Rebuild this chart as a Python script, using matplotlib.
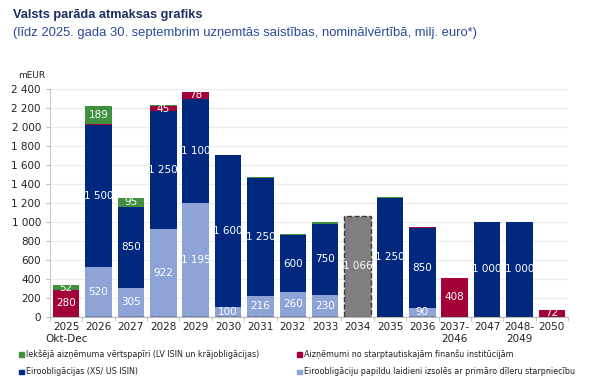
import numpy as np
import matplotlib.pyplot as plt

years = ['2025\nOkt-Dec', '2026', '2027', '2028', '2029', '2030', '2031', '2032',
         '2033', '2034', '2035', '2036', '2037-\n2046', '2047', '2048-\n2049', '2050']

# Eiroobligāciju papildu laidieni (light blue)
euro_add = [0, 520, 305, 922, 1195, 100, 216, 260, 230, 0, 0, 90, 0, 0, 0, 0]
# Eiroobligācijas (navy)
euro = [0, 1500, 850, 1250, 1100, 1600, 1250, 600, 750, 0, 1250, 850, 0, 1000, 1000, 0]
# Aizņēmumi no starptautiskajām finanšu institūcijām (red)
ifi = [280, 8, 5, 45, 78, 0, 0, 5, 0, 0, 0, 5, 408, 0, 0, 72]
# Iekšējā aizņēmuma vērtspapīri (green)
domestic = [52, 189, 95, 20, 0, 10, 3, 5, 14, 0, 8, 0, 0, 0, 0, 0]
# 2034 (grey, dashed)
other = [0, 0, 0, 0, 0, 0, 0, 0, 0, 1066, 0, 0, 0, 0, 0, 0]

c_light = '#8ea3d6'
c_navy = '#00287f'
c_red = '#a3003a'
c_green = '#3f9140'
c_grey = '#7f7f7f'


def fmt(v):
    return '{:,}'.format(v).replace(',', ' ')


fig = plt.figure(figsize=(6, 3.89), dpi=100)
ax = fig.add_axes([0.0833, 0.186, 0.8634, 0.585])

x = np.arange(len(years))
w = 0.82
bottom = np.zeros(len(years))
for vals, col in [(euro_add, c_light), (euro, c_navy), (ifi, c_red), (domestic, c_green)]:
    vals = np.array(vals, dtype=float)
    ax.bar(x, vals, w, bottom=bottom, color=col, linewidth=0, zorder=3)
    for i, v in enumerate(vals):
        if v >= 40:
            ax.text(x[i], bottom[i] + v / 2, fmt(int(v)), ha='center', va='center',
                    color='white', fontsize=7.5, zorder=4)
    bottom += vals

ax.bar(x, other, w, color=c_grey, edgecolor='#3a3a3a', linestyle='--', linewidth=1, zorder=3)
for i, v in enumerate(other):
    if v > 0:
        ax.text(x[i], v / 2, fmt(v), ha='center', va='center', color='white', fontsize=7.5, zorder=4)

ax.set_xlim(-0.5, len(years) - 0.5)
ax.set_ylim(0, 2400)
ax.set_yticks(np.arange(0, 2401, 200))
ax.set_yticklabels([fmt(v) for v in range(0, 2401, 200)])
ax.set_xticks(x)
ax.set_xticklabels(years)
ax.set_xticks(np.arange(-0.5, len(years), 1), minor=True)
ax.tick_params(axis='x', which='major', length=0, labelsize=7.5, colors='#222222', pad=4)
ax.tick_params(axis='x', which='minor', length=3, color='#bbbbbb')
ax.tick_params(axis='y', length=3, color='#bbbbbb', labelsize=7.5, labelcolor='#222222')
ax.grid(axis='y', color='#ececec', linewidth=0.8, zorder=0)
for s in ['top', 'right']:
    ax.spines[s].set_visible(False)
ax.spines['left'].set_color('#cccccc')
ax.spines['bottom'].set_color('#bbbbbb')

fig.text(0.021, 0.962, 'Valsts parāda atmaksas grafiks', fontsize=9.2, fontweight='bold',
         color='#1c2f5e', va='center', family='Liberation Sans')
fig.text(0.021, 0.914, '(līdz 2025. gada 30. septembrim uzņemtās saistības, nominālvērtībā, milj. euro*)',
         fontsize=9.4, color='#2a4a9a', va='center', family='Liberation Sans')
fig.text(0.03, 0.807, 'mEUR', fontsize=6.5, color='#222222', va='center')

legend_items = [
    (0.032, 0.089, c_green, 'Iekšējā aizņēmuma vērtspapīri (LV ISIN un krājobligācijas)'),
    (0.495, 0.089, c_red, 'Aizņēmumi no starptautiskajām finanšu institūcijām'),
    (0.032, 0.045, c_navy, 'Eiroobligācijas (XS/ US ISIN)'),
    (0.495, 0.045, c_light, 'Eiroobligāciju papildu laidieni izsolēs ar primāro dīleru starpniecību'),
]
for lx, ly, col, lab in legend_items:
    fig.patches.append(plt.Rectangle((lx, ly - 0.007), 0.008, 0.012, transform=fig.transFigure,
                                     color=col, figure=fig))
    fig.text(lx + 0.012, ly, lab, fontsize=5.75, color='#222222', va='center')

fig.savefig('out.png', dpi=100)
